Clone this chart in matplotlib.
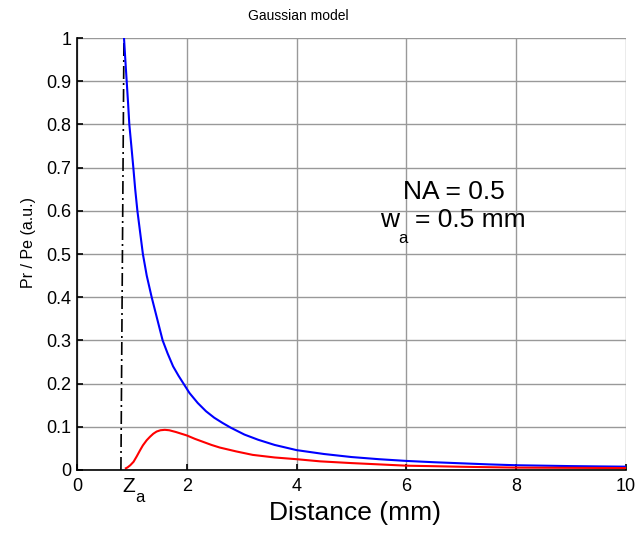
import numpy as np
import matplotlib
matplotlib.use('Agg')
import matplotlib.pyplot as plt

plt.rcParams['font.family'] = ['Liberation Sans', 'DejaVu Sans']

# blue curve
z_blue = [0.856, 0.88, 0.905, 0.93, 0.953, 0.99, 1.026, 1.06, 1.10, 1.15, 1.20, 1.27,
          1.36, 1.46, 1.56, 1.65, 1.75, 1.85, 1.94, 2.05, 2.2, 2.35, 2.5, 2.65, 2.8,
          3.05, 3.3, 3.6, 4.0, 4.5, 5.0, 5.5, 6.0, 6.5, 7.0, 7.5, 8.0, 8.5, 9.0, 9.5, 10.0]
p_blue = [1.0, 0.95, 0.9, 0.85, 0.8, 0.75, 0.7, 0.65, 0.6, 0.55, 0.5, 0.45,
          0.4, 0.35, 0.3, 0.27, 0.24, 0.218, 0.2, 0.178, 0.155, 0.136, 0.121, 0.109, 0.098,
          0.082, 0.07, 0.058, 0.046, 0.037, 0.030, 0.025, 0.021, 0.018, 0.0155, 0.013, 0.011,
          0.010, 0.009, 0.0083, 0.0077]

# red curve
z_red = [0.89, 0.92, 0.97, 1.03, 1.09, 1.15, 1.20, 1.27, 1.33, 1.39, 1.45, 1.52, 1.60,
         1.68, 1.80, 1.90, 2.0, 2.15, 2.3, 2.45, 2.6, 2.9, 3.2, 3.6, 4.0, 4.43, 5.0,
         5.5, 6.0, 6.5, 7.0, 7.5, 8.0, 9.0, 10.0]
p_red = [0.004, 0.006, 0.011, 0.019, 0.032, 0.046, 0.057, 0.069, 0.077, 0.084, 0.089,
         0.092, 0.093, 0.092, 0.088, 0.084, 0.080, 0.072, 0.065, 0.058, 0.052, 0.043,
         0.035, 0.029, 0.025, 0.020, 0.016, 0.013, 0.010, 0.0088, 0.0075, 0.0065, 0.0055,
         0.005, 0.0045]

# z_a marker line
za_x = [0.80, 0.855]
za_y = [0.0, 1.0]

xticks = [0, 2, 4, 6, 8, 10]
yticks = [0, 0.1, 0.2, 0.3, 0.4, 0.5, 0.6, 0.7, 0.8, 0.9, 1]
ytick_labels = ['0', '0.1', '0.2', '0.3', '0.4', '0.5', '0.6', '0.7', '0.8', '0.9', '1']

fig = plt.figure(figsize=(6.39, 5.34), dpi=100)
ax = fig.add_axes([77/639, 1-470/534, (626-77)/639, (470-38)/534])

ax.plot(za_x, za_y, color='k', lw=1.2, dashes=(7.8, 2.4, 1.2, 2.4))
ax.plot(z_blue, p_blue, color='#0000ff', lw=1.5)
ax.plot(z_red, p_red, color='#ff0000', lw=1.5)

ax.set_xlim(0, 10)
ax.set_ylim(0, 1)
ax.set_xticks(xticks)
ax.set_yticks(yticks)
ax.set_yticklabels(ytick_labels)
ax.grid(True, color='#999999', lw=1.0)
ax.set_axisbelow(True)
ax.spines['top'].set_visible(False)
ax.spines['right'].set_visible(False)
for s in ['left', 'bottom']:
    ax.spines[s].set_linewidth(1.2)
ax.tick_params(direction='in', length=4.5, width=1.2, labelsize=13)
ax.tick_params(axis='x', pad=6)
ax.tick_params(axis='y', pad=4)

fig.text(355/639, 1-513/534, 'Distance (mm)', ha='center', va='center', fontsize=19)
fig.text(29/639, 1-243/534, 'Pr / Pe (a.u.)', ha='center', va='center',
         rotation=90, fontsize=11.5)
fig.text(298/639, 1-16/534, 'Gaussian model', ha='center', va='center', fontsize=10)

ax.text(0.95, -0.051, 'Z', ha='center', va='baseline', fontsize=15)
ax.text(1.15, -0.074, 'a', ha='center', va='baseline', fontsize=12)

ax.text(6.87, 0.644, 'NA = 0.5', ha='center', va='center', fontsize=19)
ax.text(5.70, 0.578, 'w', ha='center', va='center', fontsize=19)
ax.text(5.94, 0.537, 'a', ha='center', va='center', fontsize=12)
ax.text(6.16, 0.578, '= 0.5 mm', ha='left', va='center', fontsize=19)

plt.savefig('out.png', dpi=100)
